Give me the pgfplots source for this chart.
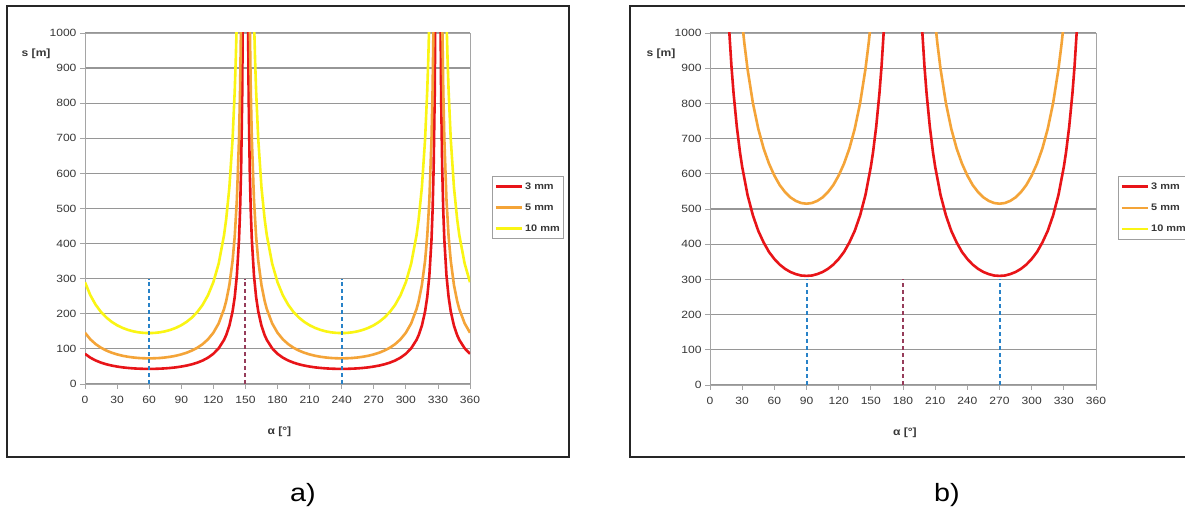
\documentclass[border=0pt]{standalone}
\usepackage{fontspec}
\setmainfont{Liberation Sans}
\newfontfamily\chartfont[FakeStretch=1.15]{Liberation Sans}
\usepackage{pgfplots}
\usepackage{pgfplotstable}
\pgfplotsset{compat=1.18}

\definecolor{c3}{RGB}{232,20,24}
\definecolor{c5}{RGB}{244,164,56}
\definecolor{c10}{RGB}{250,245,20}
\definecolor{dashblue}{RGB}{40,130,200}
\definecolor{dashred}{RGB}{150,60,90}
\definecolor{gridc}{RGB}{150,150,150}
\definecolor{axc}{RGB}{165,165,165}
\definecolor{labc}{RGB}{55,55,55}

% panel a) -- 3 mm
\pgfplotstableread{
a s
0 86
5 75.0
10 66.9
15 60.8
20 56.1
25 52.5
30 49.7
35 47.4
40 45.8
45 44.5
50 43.7
55 43.2
60 43
65 43.2
70 43.7
75 44.5
80 45.8
85 47.4
90 49.7
95 52.5
100 56.1
105 60.8
110 66.9
115 75.0
120 86
125 101.7
130 125.7
132 139.2
135 166.1
138 206.8
140 247.6
142 309.0
144 411.4
145 493.4
146 616.4
147 821.6
148 1232
152 1232
153 821.6
154 616.4
155 493.4
156 411.4
158 309.0
160 247.6
162 206.8
165 166.1
168 139.2
170 125.7
175 101.7
180 86
185 75.0
190 66.9
195 60.8
200 56.1
205 52.5
210 49.7
215 47.4
220 45.8
225 44.5
230 43.7
235 43.2
240 43
245 43.2
250 43.7
255 44.5
260 45.8
265 47.4
270 49.7
275 52.5
280 56.1
285 60.8
290 66.9
295 75.0
300 86
305 101.7
310 125.7
312 139.2
315 166.1
318 206.8
320 247.6
322 309.0
324 411.4
325 493.4
326 616.4
327 821.6
328 1232
332 1232
333 821.6
334 616.4
335 493.4
336 411.4
338 309.0
340 247.6
342 206.8
345 166.1
348 139.2
350 125.7
355 101.7
360 86
}\aRed

% panel a) -- 5 mm
\pgfplotstableread{
a s
0 146
5 127.3
10 113.6
15 103.2
20 95.3
25 89.1
30 84.3
35 80.5
40 77.7
45 75.6
50 74.1
55 73.3
60 73
65 73.3
70 74.1
75 75.6
80 77.7
85 80.5
90 84.3
95 89.1
100 95.3
105 103.2
110 113.6
115 127.3
120 146
125 172.7
130 213.4
132 236.2
135 282.1
138 351.1
140 420.4
142 524.5
144 698.4
145 837.6
146 1046.5
154 1046.5
155 837.6
156 698.4
158 524.5
160 420.4
162 351.1
165 282.1
168 236.2
170 213.4
175 172.7
180 146
185 127.3
190 113.6
195 103.2
200 95.3
205 89.1
210 84.3
215 80.5
220 77.7
225 75.6
230 74.1
235 73.3
240 73
245 73.3
250 74.1
255 75.6
260 77.7
265 80.5
270 84.3
275 89.1
280 95.3
285 103.2
290 113.6
295 127.3
300 146
305 172.7
310 213.4
312 236.2
315 282.1
318 351.1
320 420.4
322 524.5
324 698.4
325 837.6
326 1046.5
334 1046.5
335 837.6
336 698.4
338 524.5
340 420.4
342 351.1
345 282.1
348 236.2
350 213.4
355 172.7
360 146
}\aOrange

% panel a) -- 10 mm
\pgfplotstableread{
a s
0 290
5 252.8
10 225.6
15 205.1
20 189.3
25 177.0
30 167.4
35 160.0
40 154.3
45 150.1
50 147.2
55 145.6
60 145
65 145.6
70 147.2
75 150.1
80 154.3
85 160.0
90 167.4
95 177.0
100 189.3
105 205.1
110 225.6
115 252.8
120 290
125 343.1
130 423.9
132 469.2
135 560.2
138 697.4
140 835.0
141 927
142 1041.9
158 1041.9
159 927
160 835.0
162 697.4
165 560.2
168 469.2
170 423.9
175 343.1
180 290
185 252.8
190 225.6
195 205.1
200 189.3
205 177.0
210 167.4
215 160.0
220 154.3
225 150.1
230 147.2
235 145.6
240 145
245 145.6
250 147.2
255 150.1
260 154.3
265 160.0
270 167.4
275 177.0
280 189.3
285 205.1
290 225.6
295 252.8
300 290
305 343.1
310 423.9
312 469.2
315 560.2
318 697.4
320 835.0
321 927
322 1041.9
338 1041.9
339 927
340 835.0
342 697.4
345 560.2
348 469.2
350 423.9
355 343.1
360 290
}\aYellow

% panel b) -- 3 mm
\pgfplotstableread{
a s
16 1125
18 1003
20 906
22 828
25 734
28 660
30 620
35 540
40 482
45 438
50 405
55 378
60 358
65 342
70 330
75 321
80 315
85 311
90 310
95 311
100 315
105 321
110 330
115 342
120 358
125 378
130 405
135 438
140 482
145 540
150 620
152 660
155 734
158 828
160 906
162 1003
164 1125
196 1125
198 1003
200 906
202 828
205 734
208 660
210 620
215 540
220 482
225 438
230 405
235 378
240 358
245 342
250 330
255 321
260 315
265 311
270 310
275 311
280 315
285 321
290 330
295 342
300 358
305 378
310 405
315 438
320 482
325 540
330 620
332 660
335 734
338 828
340 906
342 1003
344 1125
}\bRed

% panel b) -- 5 mm
\pgfplotstableread{
a s
28 1097
30 1030
32 972
35 898
40 801
45 728
50 672
55 629
60 595
65 568
70 548
75 533
80 523
85 517
90 515
95 517
100 523
105 533
110 548
115 568
120 595
125 629
130 672
135 728
140 801
145 898
148 972
150 1030
152 1097
208 1097
210 1030
212 972
215 898
220 801
225 728
230 672
235 629
240 595
245 568
250 548
255 533
260 523
265 517
270 515
275 517
280 523
285 533
290 548
295 568
300 595
305 629
310 672
315 728
320 801
325 898
328 972
330 1030
332 1097
}\bOrange

% panel b) -- 10 mm (entirely above 1000)
\pgfplotstableread{
a s
30 2060
45 1457
60 1189
90 1030
120 1189
135 1457
150 2060
210 2060
225 1457
240 1189
270 1030
300 1189
315 1457
330 2060
}\bYellow

\pgfplotsset{
  panel/.style={
    scale only axis, anchor=south west,
    width=385pt, height=351pt,
    xmin=0, xmax=360, ymin=0, ymax=1000,
    xtick={0,30,...,360}, ytick={0,100,...,1000},
    ymajorgrids, grid style={draw=gridc, line width=1.2pt},
    axis line style={draw=axc, line width=0.8pt},
    tick align=outside, tick pos=left, major tick length=5pt,
    tick style={draw=axc, line width=0.8pt},
    tick label style={font=\chartfont\fontsize{10.5}{12}\selectfont, text=labc},
    xticklabel style={yshift=-4pt},
    /pgf/number format/assume math mode=true,
    /pgf/number format/1000 sep={},
    xlabel={α [°]}, ylabel={s [m]},
    every axis x label/.style={at={(axis description cs:0.505,0)}, anchor=center,
      yshift=-48pt, font=\chartfont\bfseries\fontsize{10.5}{12}\selectfont, text=labc},
    every axis y label/.style={at={(axis description cs:-0.127,0.94)}, anchor=center,
      font=\chartfont\bfseries\fontsize{10.5}{12}\selectfont, text=labc},
    legend style={at={(axis description cs:1.057,0.5926)}, anchor=north west,
      draw=gray!75, line width=0.8pt, font=\chartfont\bfseries\fontsize{9.5}{11}\selectfont,
      text=labc, inner xsep=2pt, inner ysep=4pt, row sep=9pt},
    legend cell align=left,
    legend image code/.code={\draw[##1, line width=2.8pt] (0pt,0pt) -- (26pt,0pt);},
    every axis plot/.append style={line width=2.6pt, line join=round},
  },
  guide/.style={forget plot, line width=2pt, dash pattern=on 4pt off 3pt},
}

\begin{document}
\begin{tikzpicture}[x=1pt,y=1pt]
\useasboundingbox (0,0) rectangle (1185,508);
\clip (0,0) rectangle (1185,508);
\fill[white] (0,0) rectangle (1185,508);
\draw[line width=2pt, black!85] (7,51) rectangle (569,502);
\draw[line width=2pt, black!85] (630,51) rectangle (1200,502);

\begin{axis}[panel, at={(85pt,124pt)}]
\addplot[c3] table[x=a, y=s] {\aRed};
\addlegendentry{3 mm}
\addplot[c5] table[x=a, y=s] {\aOrange};
\addlegendentry{5 mm}
\addplot[c10] table[x=a, y=s] {\aYellow};
\addlegendentry{10 mm}
\addplot[guide, dashblue] coordinates {(60,0) (60,300)};
\addplot[guide, dashblue] coordinates {(240,0) (240,300)};
\addplot[guide, dashred] coordinates {(150,0) (150,300)};
\end{axis}

\begin{axis}[panel, at={(710pt,123pt)}, width=386pt, height=352pt]
\addplot[c3] table[x=a, y=s] {\bRed};
\addlegendentry{3 mm}
\addplot[c5] table[x=a, y=s] {\bOrange};
\addlegendentry{5 mm}
\addplot[c10] table[x=a, y=s] {\bYellow};
\addlegendentry{10 mm}
\addplot[guide, dashblue] coordinates {(90,0) (90,300)};
\addplot[guide, dashblue] coordinates {(270,0) (270,300)};
\addplot[guide, dashred] coordinates {(180,0) (180,300)};
\end{axis}

\node[font=\chartfont\fontsize{25}{28}\selectfont] at (303,13) {a)};
\node[font=\chartfont\fontsize{25}{28}\selectfont] at (947,13) {b)};
\end{tikzpicture}
\end{document}
